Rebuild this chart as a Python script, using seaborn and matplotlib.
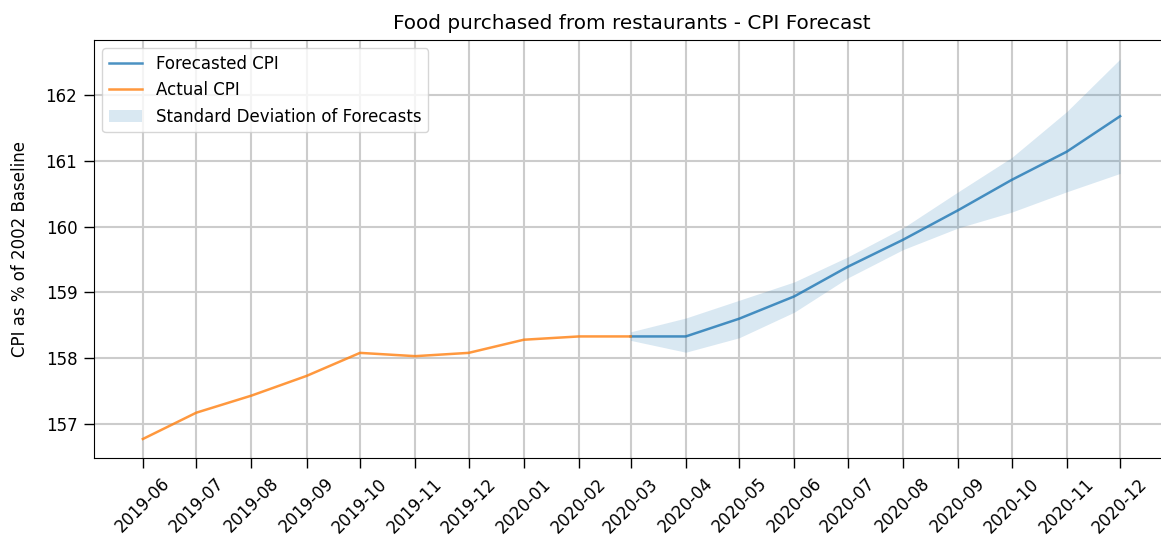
import matplotlib
matplotlib.use('Agg')
import matplotlib.pyplot as plt
import matplotlib.dates as mdates
import seaborn as sns
import pandas as pd

# values
actual_months = ['2019-06', '2019-07', '2019-08', '2019-09', '2019-10',
                 '2019-11', '2019-12', '2020-01', '2020-02', '2020-03']
actual_cpi = [156.77, 157.17, 157.43, 157.73, 158.08,
              158.03, 158.08, 158.28, 158.33, 158.33]

forecast_months = ['2020-03', '2020-04', '2020-05', '2020-06', '2020-07',
                   '2020-08', '2020-09', '2020-10', '2020-11', '2020-12']
forecast_cpi = [158.33, 158.33, 158.60, 158.94, 159.39,
                159.80, 160.25, 160.71, 161.14, 161.68]
forecast_upper = [158.40, 158.61, 158.88, 159.16, 159.54,
                  159.98, 160.53, 161.05, 161.75, 162.55]
forecast_lower = [158.27, 158.09, 158.31, 158.70, 159.22,
                  159.65, 159.98, 160.22, 160.53, 160.81]

actual = pd.DataFrame({'month': pd.to_datetime(actual_months), 'cpi': actual_cpi})
forecast = pd.DataFrame({'month': pd.to_datetime(forecast_months), 'cpi': forecast_cpi,
                         'upper': forecast_upper, 'lower': forecast_lower})

fig = plt.figure(figsize=(11.61, 5.46), dpi=100)
# the original screenshot cuts the plot off on the right, so the axes run past the edge
ax = fig.add_axes([94 / 1161, 88 / 546, 1075 / 1161, 418 / 546])

sns.lineplot(data=forecast, x='month', y='cpi', ax=ax, color='#1f77b4', alpha=0.8,
             linewidth=1.8, label='Forecasted CPI')
sns.lineplot(data=actual, x='month', y='cpi', ax=ax, color='#ff7f0e', alpha=0.8,
             linewidth=1.8, label='Actual CPI')
ax.fill_between(forecast['month'], forecast['lower'], forecast['upper'],
                color='#1f77b4', alpha=0.17, linewidth=0,
                label='Standard Deviation of Forecasts')

all_months = pd.to_datetime(actual_months[:-1] + forecast_months)
ax.set_xticks(all_months)
ax.xaxis.set_major_formatter(mdates.DateFormatter('%Y-%m'))
plt.setp(ax.get_xticklabels(), rotation=45, fontsize=12)
ax.set_yticks([157, 158, 159, 160, 161, 162])
ax.tick_params(axis='y', labelsize=12)
ax.tick_params(length=7, width=1, pad=5)

ax.grid(True, color='#cccccc', linewidth=1.5)
ax.set_axisbelow(True)

ax.set_xlabel('')
ax.set_ylabel('CPI as % of 2002 Baseline', fontsize=12, labelpad=12)
ax.set_title('Food purchased from restaurants - CPI Forecast', fontsize=14.4, pad=8)
ax.legend(loc='upper left', fontsize=12)

fig.savefig('out.png', dpi=100)
